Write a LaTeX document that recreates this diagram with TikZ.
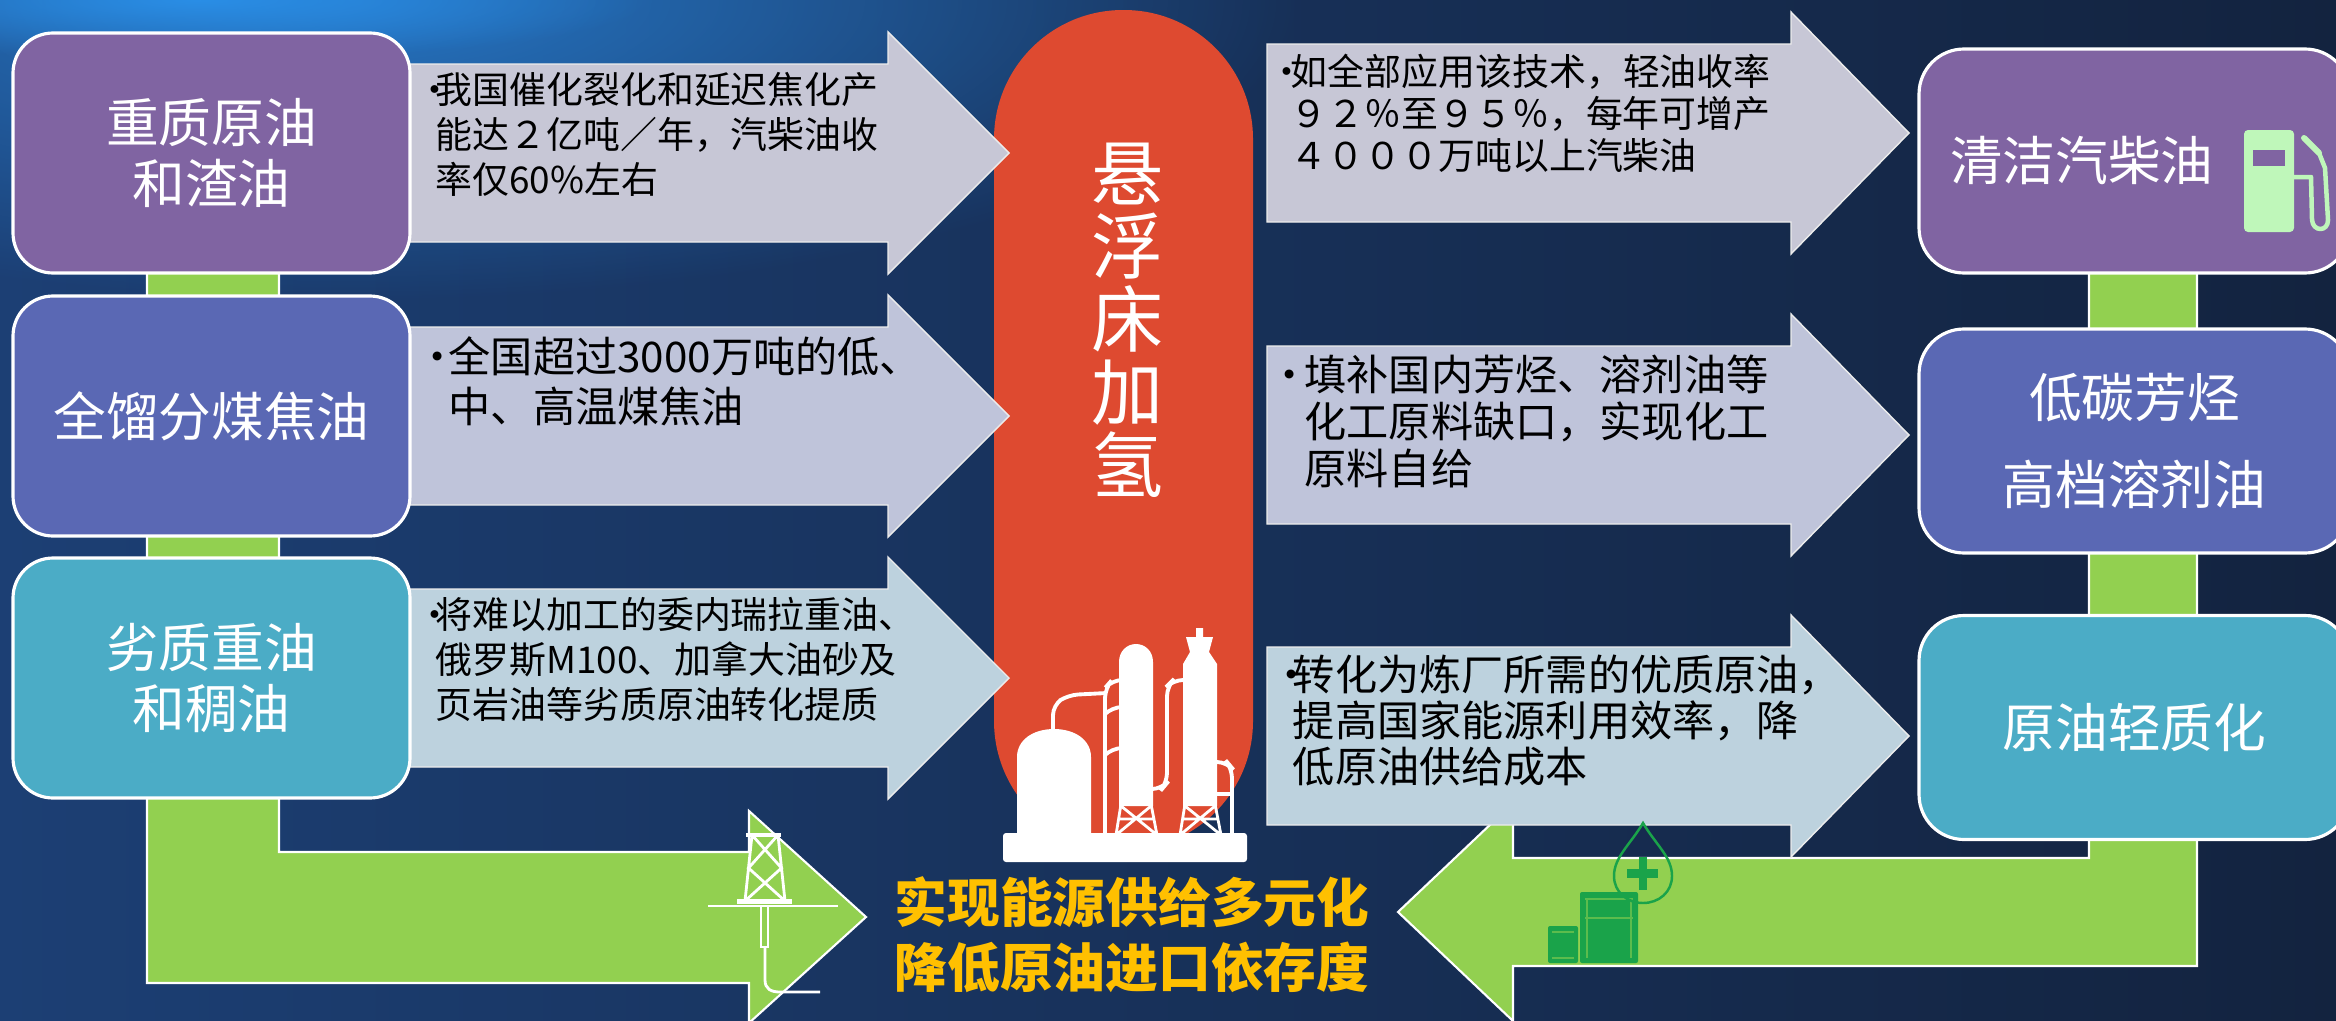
\documentclass[tikz,border=0pt]{standalone}
\usepackage{fontspec}
\setmainfont{Noto Sans CJK SC}
\usetikzlibrary{fadings}

\definecolor{bgleft}{HTML}{1C3F74}
\definecolor{bgright}{HTML}{13233F}
\definecolor{glowblue}{HTML}{2A8EE6}
\definecolor{boxpurple}{HTML}{8064A2}
\definecolor{boxblue}{HTML}{5A68B4}
\definecolor{boxaqua}{HTML}{4BACC6}
\definecolor{leafgreen}{HTML}{92D050}
\definecolor{hotred}{HTML}{DE4A30}
\definecolor{goldtext}{HTML}{FFC000}
\definecolor{greyA}{HTML}{C7C7D6}
\definecolor{greyB}{HTML}{BFC4DA}
\definecolor{greyC}{HTML}{BDD2DE}
\definecolor{pumpgreen}{HTML}{BFF7BA}
\definecolor{barrelgreen}{HTML}{1AA34A}

\tikzfading[name=glowfade, inner color=transparent!0, outer color=transparent!100]

\newcommand{\setfs}[2]{\fontsize{#1}{#2}\selectfont}
\newcommand{\bul}[1]{\makebox[#1][l]{•}}

\tikzset{
  feedbox/.style={draw=white, line width=0.9pt, rounded corners=4mm, text=white, align=center,
    minimum width=39.7mm, minimum height=24mm, inner sep=0pt, font={\setfs{15pt}{17.4pt}}},
  prodbox/.style={draw=white, line width=0.9pt, rounded corners=4.5mm, text=white, align=center,
    minimum width=43.1mm, minimum height=22.4mm, inner sep=0pt, font={\setfs{15pt}{17.4pt}}},
  note/.style={anchor=north west, align=left, inner sep=0pt, text=black},
  flow/.style={fill=leafgreen, draw=white, line width=0.6pt},
  shaft/.style={draw=white!85!gray, line width=0.4pt},
  icon/.style={white, line width=1.1pt, rounded corners=1mm},
}

\begin{document}
\begin{tikzpicture}[x=0.1mm, y=-0.1mm]
  \useasboundingbox (0,0) rectangle (2336,1021);
  \clip (0,0) rectangle (2336,1021);

  % backdrop
  \shade[left color=bgleft, right color=bgright] (0,0) rectangle (2336,1021);
  \fill[glowblue!70!bgleft, path fading=glowfade] (350,0) ellipse [x radius=95mm, y radius=30mm];
  \fill[glowblue, path fading=glowfade] (200,0) ellipse [x radius=45mm, y radius=6mm];

  % green feed and product lines
  \filldraw[flow] (147,150) -- (279,150) -- (279,852) -- (749,852) -- (749,811) -- (866,917)
    -- (749,1023) -- (749,983) -- (147,983) -- cycle;
  \filldraw[flow] (2197,150) -- (2197,966) -- (1513,966) -- (1513,1021) -- (1398,912)
    -- (1513,803) -- (1513,858) -- (2089,858) -- (2089,150) -- cycle;

  % reactor column
  \fill[hotred, rounded corners=12.9mm] (994,10) rectangle (1253,850);
  \node[text=white, align=center, font={\setfs{20.5pt}{20.8pt}}] (slurry) at (1128,320)
    {悬\\浮\\床\\加\\氢};

  % block arrows
  \foreach \xa/\xb/\xt/\yc/\col in {400/888/1009/153/greyA, 400/888/1009/416/greyB,
      400/888/1009/678/greyC, 1267/1791/1909/133/greyA, 1267/1791/1909/435/greyB,
      1267/1791/1909/736/greyC}
    \filldraw[shaft, fill=\col] (\xa,\yc-89) -- (\xb,\yc-89) -- (\xb,\yc-121) -- (\xt,\yc)
      -- (\xb,\yc+121) -- (\xb,\yc+89) -- (\xa,\yc+89) -- cycle;

  \node[note, font={\setfs{10.5pt}{12.8pt}}] (gapnote) at (416,72)
    {\bul{5.4pt}我国催化裂化和延迟焦化产\\\hspace*{5.4pt}能达２亿吨／年，汽柴油收\\\hspace*{5.4pt}率仅60\%左右};
  \node[note, font={\setfs{12pt}{14.2pt}}] (tarnote) at (416,336)
    {\bul{9.1pt}全国超过3000万吨的低、\\\hspace*{9.1pt}中、高温煤焦油};
  \node[note, font={\setfs{10.5pt}{12.8pt}}] (crudenote) at (416,597)
    {\bul{5.4pt}将难以加工的委内瑞拉重油、\\\hspace*{5.4pt}俄罗斯M100、加拿大油砂及\\\hspace*{5.4pt}页岩油等劣质原油转化提质};
  \node[note, font={\setfs{10.5pt}{12pt}}] (yieldnote) at (1268,53)
    {\bul{6.3pt}如全部应用该技术，轻油收率\\\hspace*{6.3pt}９２％至９５％，每年可增产\\\hspace*{6.3pt}４０００万吨以上汽柴油};
  \node[note, font={\setfs{12pt}{13.4pt}}] (chemnote) at (1268,354)
    {\bul{10.2pt}填补国内芳烃、溶剂油等\\\hspace*{10.2pt}化工原料缺口，实现化工\\\hspace*{10.2pt}原料自给};
  \node[note, font={\setfs{12pt}{13.1pt}}] (refnote) at (1270,654)
    {\bul{6.3pt}转化为炼厂所需的优质原油，\\\hspace*{6.3pt}提高国家能源利用效率，降\\\hspace*{6.3pt}低原油供给成本};

  % feedstocks
  \node[feedbox, fill=boxpurple] (heavy) at (211.5,153) {重质原油\\和渣油};
  \node[feedbox, fill=boxblue] (coaltar) at (211.5,416) {全馏分煤焦油};
  \node[feedbox, fill=boxaqua] (inferior) at (211.5,678) {劣质重油\\和稠油};

  % products
  \node[prodbox, fill=boxpurple] (fuel) at (2134.5,161) {清洁汽柴油\kern30pt};
  \node[prodbox, fill=boxblue, font={\setfs{15pt}{25pt}}] (aromatic) at (2134.5,441) {低碳芳烃\\高档溶剂油};
  \node[prodbox, fill=boxaqua] (light) at (2134.5,727.5) {原油轻质化};

  % fuel pump
  \fill[pumpgreen, rounded corners=0.4mm] (2244,232) rectangle (2294,130);
  \fill[boxpurple] (2253,150) rectangle (2285,166);
  \draw[pumpgreen, line width=0.45mm, line join=round] (2292,177) -- (2311,177) -- (2312,220)
    .. controls (2313,232) and (2328,232) .. (2328,220) -- (2325,168) -- (2319,153);
  \draw[pumpgreen, line width=0.6mm, line cap=round] (2319,153) -- (2304,138);

  % refinery
  \fill[white, rounded corners=0.3mm] (1003,833) rectangle (1247,862);
  \fill[white] (1017,835) -- (1017,757) .. controls (1017,740) and (1033,729) .. (1054,729)
    .. controls (1075,729) and (1091,740) .. (1091,757) -- (1091,835) -- cycle;
  \fill[white] (1119,806) -- (1119,662) .. controls (1119,651) and (1127,644) .. (1136,644)
    .. controls (1145,644) and (1153,651) .. (1153,662) -- (1153,806) -- cycle;
  \fill[white] (1183,806) -- (1183,664) -- (1190,652) -- (1186,637) -- (1196,637) -- (1196,628)
    -- (1203,628) -- (1203,637) -- (1213,637) -- (1209,652) -- (1217,664) -- (1217,806) -- cycle;
  \draw[icon, rounded corners=0pt, line width=0.8pt] (1121,804) -- (1116,835) (1151,804) -- (1157,835)
    (1121,806) -- (1157,835) (1151,806) -- (1116,835) (1119,819) -- (1154,819);
  \draw[icon, rounded corners=0pt, line width=0.8pt] (1185,804) -- (1180,835) (1215,804) -- (1221,835)
    (1185,806) -- (1221,835) (1215,806) -- (1180,835) (1183,819) -- (1218,819);
  \draw[icon] (1053,731) -- (1053,705) -- (1068,695) -- (1107,693);
  \draw[icon] (1105,835) -- (1105,688) -- (1112,680) -- (1120,680);
  \draw[icon] (1105,714) -- (1112,707) -- (1120,707);
  \draw[icon] (1105,755) -- (1112,748) -- (1120,748);
  \draw[icon] (1152,789) -- (1162,789) -- (1167,783) -- (1167,686) -- (1173,680) -- (1184,680);
  \draw[icon] (1216,762) -- (1227,762) -- (1232,768) -- (1232,835);
  \draw[icon] (1216,794) -- (1232,794);

  % derrick
  \draw[icon, rounded corners=0pt, line width=0.8pt] (752,835) -- (745,901) (778,835) -- (785,901)
    (752,835) -- (781.5,868) -- (745,901) (778,835) -- (748.5,868) -- (785,901);
  \fill[white] (746,833) rectangle (781,837);
  \fill[white] (737,899) rectangle (792,904);
  \draw[icon, rounded corners=0pt, line width=0.8pt] (708,906) -- (838,906);
  \draw[icon, rounded corners=0pt, line width=0.8pt] (761,906) -- (761,947) -- (768,947) -- (768,906);
  \draw[icon, rounded corners=0pt, line width=0.8pt] (765,947) -- (765,980)
    .. controls (765,989) and (771,992) .. (780,992) -- (820,992);

  % barrels and drop
  \fill[barrelgreen, rounded corners=0.2mm] (1580,892) rectangle (1638,963);
  \draw[leafgreen!55!barrelgreen, line width=0.4pt] (1585,899) -- (1633,899) (1585,918) -- (1633,918)
    (1587,899) -- (1587,958) (1631,899) -- (1631,958);
  \fill[barrelgreen, rounded corners=0.2mm] (1548,926) rectangle (1578,963);
  \draw[leafgreen!55!barrelgreen, line width=0.4pt] (1552,932) -- (1574,932) (1552,958) -- (1574,958);
  \draw[barrelgreen, line width=0.7pt] (1643,823) .. controls (1630,845) and (1614,857) .. (1614,876)
    .. controls (1614,892) and (1627,903) .. (1643,903) .. controls (1659,903) and (1672,892) .. (1672,876)
    .. controls (1672,857) and (1656,845) .. (1643,823) -- cycle;
  \fill[barrelgreen] (1627,869) rectangle (1658,878);
  \fill[barrelgreen] (1639,857) rectangle (1647,890);

  % headline
  \node[text=goldtext, align=center, font={\bfseries\setfs{15pt}{18.5pt}}] (goal) at (1132,935)
    {实现能源供给多元化\\降低原油进口依存度};
\end{tikzpicture}
\end{document}
